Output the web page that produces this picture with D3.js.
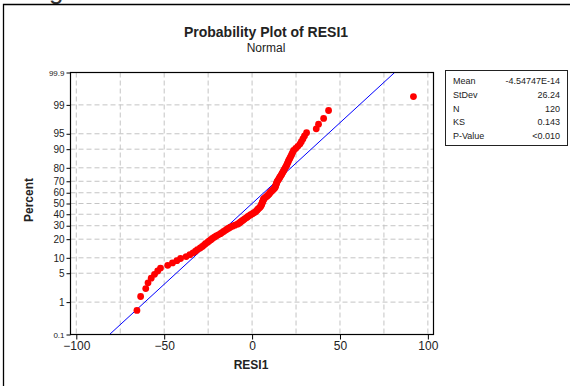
<!DOCTYPE html>
<html>
<head>
<meta charset="utf-8">
<script src="https://cdn.jsdelivr.net/npm/d3@7"></script>
<style>
  body { margin: 0; background: #fff; }
  svg { display: block; font-family: "Liberation Sans", Arial, sans-serif; }
</style>
</head>
<body>
<div id="chart"></div>
<script>
// Residuals, sorted ascending (N = 120)
const resi1 = [
  -65.5, -63.4, -60.5, -59.2, -57.4, -55.5, -53.7, -52.1, -48.0, -45.3,
  -42.8, -40.7, -37.5, -35.4, -33.6, -32.2, -31.1, -29.5, -28.3, -27.3,
  -26.5, -25.3, -24.4, -23.4, -22.6, -21.5, -20.4, -19.2, -18.0, -17.1,
  -16.2, -15.2, -14.3, -13.3, -12.4, -11.1, -9.8, -8.3, -7.4, -6.7,
  -6.0, -5.2, -4.5, -3.8, -3.0, -2.3, -1.5, -0.8, 0.2, 1.0,
  1.8, 2.3, 2.8, 3.3, 3.8, 4.4, 4.8, 5.1, 5.3, 5.5,
  5.7, 5.9, 6.1, 6.3, 6.5, 6.7, 7.4, 8.0, 8.6, 9.1,
  9.6, 10.0, 10.4, 10.9, 11.5, 12.0, 12.5, 13.0, 13.2, 13.4,
  13.6, 13.8, 14.0, 14.2, 14.5, 14.9, 15.3, 15.6, 16.0, 16.4,
  16.8, 17.1, 17.5, 17.9, 18.2, 18.6, 19.0, 19.4, 19.8, 20.1,
  20.5, 20.8, 21.3, 21.7, 22.2, 22.6, 23.1, 23.6, 24.8, 26.0,
  27.2, 28.0, 28.9, 29.8, 31.0, 36.5, 37.8, 40.7, 43.5, 91.8
];

// Axis ticks
const xTicks = [-100, -50, 0, 50, 100];
const xGrid = [-100, -75, -50, -25, 0, 25, 50, 75, 100];
const yTicks = [0.1, 1, 5, 10, 20, 30, 40, 50, 60, 70, 80, 90, 95, 99, 99.9];
const yGrid = [1, 5, 10, 20, 30, 40, 50, 60, 70, 80, 90, 95, 99];

// Summary table
const statLabels = ["Mean", "StDev", "N", "KS", "P-Value"];
const statValues = ["-4.54747E-14", "26.24", "120", "0.143", "<0.010"];
const fitMean = -4.54747e-14;
const fitSd = 26.24;

// inverse normal cdf (Acklam's approximation)
function probit(p) {
  const a = [-39.69683028665376, 220.9460984245205, -275.9285104469687, 138.357751867269, -30.66479806614716, 2.506628277459239];
  const b = [-54.47609879822406, 161.5858368580409, -155.6989798598866, 66.80131188771972, -13.28068155288572];
  const c = [-0.007784894002430293, -0.3223964580411365, -2.400758277161838, -2.549732539343734, 4.374664141464968, 2.938163982698783];
  const d = [0.007784695709041462, 0.3224671290700398, 2.445134137142996, 3.754408661907416];
  const pl = 0.02425;
  let q, r;
  if (p < pl) {
    q = Math.sqrt(-2 * Math.log(p));
    return (((((c[0]*q+c[1])*q+c[2])*q+c[3])*q+c[4])*q+c[5]) / ((((d[0]*q+d[1])*q+d[2])*q+d[3])*q+1);
  } else if (p <= 1 - pl) {
    q = p - 0.5; r = q * q;
    return (((((a[0]*r+a[1])*r+a[2])*r+a[3])*r+a[4])*r+a[5])*q / (((((b[0]*r+b[1])*r+b[2])*r+b[3])*r+b[4])*r+1);
  }
  q = Math.sqrt(-2 * Math.log(1 - p));
  return -(((((c[0]*q+c[1])*q+c[2])*q+c[3])*q+c[4])*q+c[5]) / ((((d[0]*q+d[1])*q+d[2])*q+d[3])*q+1);
}

const W = 570, H = 386;
const plot = { left: 70.5, right: 433.5, top: 72.5, bottom: 334.5 };

const svg = d3.select("#chart").append("svg")
  .attr("width", W).attr("height", H);

// page frame and stray heading glyph
svg.append("text").attr("x", 49).attr("y", -1.5)
  .style("font-size", "26px").attr("fill", "#333").text("g");
svg.append("path").attr("d", `M3.5,${H} V4.5 H${W}`)
  .attr("fill", "none").attr("stroke", "#000").attr("stroke-width", 1.3);

const x = d3.scaleLinear().domain([-103.3, 103.2]).range([plot.left, plot.right]);
const zMax = probit(0.999);
const yz = d3.scaleLinear().domain([-zMax, zMax]).range([plot.bottom, plot.top]);
const yP = p => yz(probit(p / 100));

// grid
const grid = svg.append("g").attr("stroke", "#c4c4c4").attr("stroke-dasharray", "5,3");
grid.selectAll("line.v").data(xGrid).enter().append("line")
  .attr("x1", d => x(d)).attr("x2", d => x(d))
  .attr("y1", plot.top).attr("y2", plot.bottom);
grid.selectAll("line.h").data(yGrid).enter().append("line")
  .attr("x1", plot.left).attr("x2", plot.right)
  .attr("y1", d => yP(d)).attr("y2", d => yP(d));

// fitted normal line, from 0.1 to 99.9 percent
const fitPts = [0.1, 99.9].map(p => [fitMean + fitSd * probit(p / 100), p]);
svg.append("line")
  .attr("x1", x(fitPts[0][0])).attr("y1", yP(fitPts[0][1]))
  .attr("x2", x(fitPts[1][0])).attr("y2", yP(fitPts[1][1]))
  .attr("stroke", "#0000ff").attr("stroke-width", 1);

// points at median-rank plotting positions
const n = resi1.length;
svg.append("g").selectAll("circle").data(resi1).enter().append("circle")
  .attr("cx", d => x(d))
  .attr("cy", (d, i) => yP(100 * (i + 1 - 0.3) / (n + 0.4)))
  .attr("r", 3.4)
  .attr("fill", "#ff0000");

// frame
svg.append("rect")
  .attr("x", plot.left).attr("y", plot.top)
  .attr("width", plot.right - plot.left).attr("height", plot.bottom - plot.top)
  .attr("fill", "none").attr("stroke", "#000").attr("stroke-width", 1.2);

// axes
const xAxis = svg.append("g")
  .attr("transform", `translate(0,${plot.bottom})`)
  .call(d3.axisBottom(x).tickValues(xTicks).tickSize(5).tickSizeOuter(0).tickPadding(2));
xAxis.select(".domain").remove();
xAxis.selectAll("text").style("font-size", "12px").attr("fill", "#222");

const yAxis = svg.append("g")
  .attr("transform", `translate(${plot.left},0)`)
  .call(d3.axisLeft(yz).tickValues(yTicks.map(p => probit(p / 100)))
    .tickFormat((d, i) => yTicks[i]).tickSize(4).tickSizeOuter(0).tickPadding(2));
yAxis.select(".domain").remove();
yAxis.selectAll("text")
  .style("font-size", (d, i) => (i === 0 || i === yTicks.length - 1) ? "8px" : "10px")
  .attr("fill", "#222");

// titles
svg.append("text").attr("x", 266).attr("y", 37).attr("text-anchor", "middle")
  .style("font-size", "14px").style("font-weight", "bold").attr("fill", "#222")
  .text("Probability Plot of RESI1");
svg.append("text").attr("x", 266).attr("y", 52).attr("text-anchor", "middle")
  .style("font-size", "12px").attr("fill", "#222").text("Normal");
svg.append("text").attr("x", 251).attr("y", 369).attr("text-anchor", "middle")
  .style("font-size", "12px").style("font-weight", "bold").attr("fill", "#222").text("RESI1");
svg.append("text").attr("transform", "translate(33,200) rotate(-90)").attr("text-anchor", "middle")
  .style("font-size", "12px").style("font-weight", "bold").attr("fill", "#222").text("Percent");

// stats box
const box = svg.append("g");
box.append("rect").attr("x", 445.5).attr("y", 70.5).attr("width", 122).attr("height", 75)
  .attr("fill", "#fff").attr("stroke", "#222").attr("stroke-width", 1);
const rowY = d3.scalePoint().domain(statLabels).range([84, 139]);
box.selectAll("text.lab").data(statLabels).enter().append("text")
  .attr("x", 453).attr("y", d => rowY(d))
  .style("font-size", "9px").attr("fill", "#222").text(d => d);
box.selectAll("text.val").data(statValues).enter().append("text")
  .attr("x", 560).attr("y", (d, i) => rowY(statLabels[i])).attr("text-anchor", "end")
  .style("font-size", "9px").attr("fill", "#222").text(d => d);
</script>
</body>
</html>
